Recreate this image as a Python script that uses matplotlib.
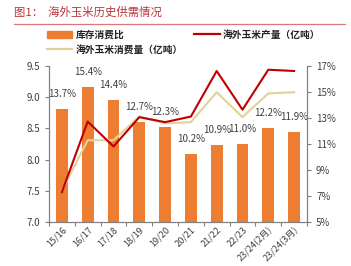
import matplotlib
matplotlib.use("Agg")
import matplotlib.pyplot as plt
from matplotlib.lines import Line2D
from matplotlib.patches import Patch

plt.rcParams['font.family'] = ['Noto Sans CJK SC', 'DejaVu Sans']

categories = ["15/16", "16/17", "17/18", "18/19", "19/20", "20/21", "21/22", "22/23", "23/24(2月)", "23/24(3月)"]
stock_ratio = [13.7, 15.4, 14.4, 12.7, 12.3, 10.2, 10.9, 11.0, 12.2, 11.9]
production = [7.48, 8.61, 8.21, 8.68, 8.60, 8.69, 9.42, 8.80, 9.44, 9.42]
consumption = [7.50, 8.31, 8.31, 8.69, 8.58, 8.60, 9.08, 8.68, 9.06, 9.08]
left_ticks = [7.0, 7.5, 8.0, 8.5, 9.0, 9.5]
right_ticks = [5, 7, 9, 11, 13, 15, 17]

bar_color = '#ED7D31'
prod_color = '#C00000'
cons_color = '#E3D197'
text_color = '#404040'

fig = plt.figure(figsize=(3.51, 2.66), dpi=100)
ax = fig.add_axes([0.1396, 0.1654, 0.735, 0.5865])
ax2 = ax.twinx()

x = list(range(len(categories)))
ax2.bar(x, stock_ratio, width=0.46, color=bar_color, zorder=1)
ax2.set_ylim(5, 17)
ax2.set_yticks(right_ticks)
ax2.set_yticklabels([f"{t}%" for t in right_ticks], fontsize=7, color=text_color)
for xi, v in zip(x, stock_ratio):
    ax2.annotate(f"{v}%", (xi, v), xytext=(0, 11), textcoords='offset points',
                 ha='center', va='center', fontsize=7, color=text_color)

ax.set_zorder(ax2.get_zorder() + 1)
ax.patch.set_visible(False)
ax.plot(x, production, color=prod_color, lw=1.5, zorder=3)
ax.plot(x, consumption, color=cons_color, lw=1.5, zorder=2)
ax.set_ylim(7.0, 9.5)
ax.set_yticks(left_ticks)
ax.set_yticklabels([f"{t:.1f}" for t in left_ticks], fontsize=7, color=text_color)
ax.set_xlim(-0.5, 9.5)
ax.set_xticks([i - 0.5 for i in range(len(categories) + 1)], minor=False)
ax.set_xticklabels([])
ax.set_xticks(x, minor=True)
ax.set_xticklabels(categories, minor=True, rotation=45, ha='right', rotation_mode='anchor',
                   fontsize=6.6, color=text_color)
ax.tick_params(axis='x', which='minor', length=0, pad=2)
ax.tick_params(axis='x', which='major', length=3, direction='out', color='#808080')
ax.tick_params(axis='y', length=3, color='#808080')
ax2.tick_params(axis='y', length=3, color='#808080')

for a in (ax, ax2):
    a.spines['top'].set_visible(False)
    for s in ('left', 'right', 'bottom'):
        a.spines[s].set_color('#808080')
        a.spines[s].set_linewidth(0.8)

# Title and rule
fig.text(14 / 351, 1 - 12 / 266, "图1：  海外玉米历史供需情况", fontsize=8.2, color='#B5373B',
         ha='left', va='center')
fig.add_artist(Line2D([14 / 351, 345 / 351], [1 - 24 / 266, 1 - 24 / 266],
                      color='#D9777A', lw=0.9))

# Legend
h1 = Patch(color=bar_color)
h2 = Line2D([], [], color=prod_color, lw=1.6)
h3 = Line2D([], [], color=cons_color, lw=1.6)
leg = fig.legend([h1, h3, h2], ["库存消费比", "海外玉米消费量（亿吨）", "海外玉米产量（亿吨）"],
                 loc='upper left', bbox_to_anchor=(0.115, 1 - 23 / 266), ncol=2,
                 frameon=False, prop={'size': 7, 'weight': 'bold'},
                 handlelength=2.6, handleheight=0.7, columnspacing=1.2,
                 labelspacing=0.5, handletextpad=0.3, borderpad=0.2)
for t in leg.get_texts():
    t.set_color('#222222')

fig.savefig("out.png", dpi=100)
